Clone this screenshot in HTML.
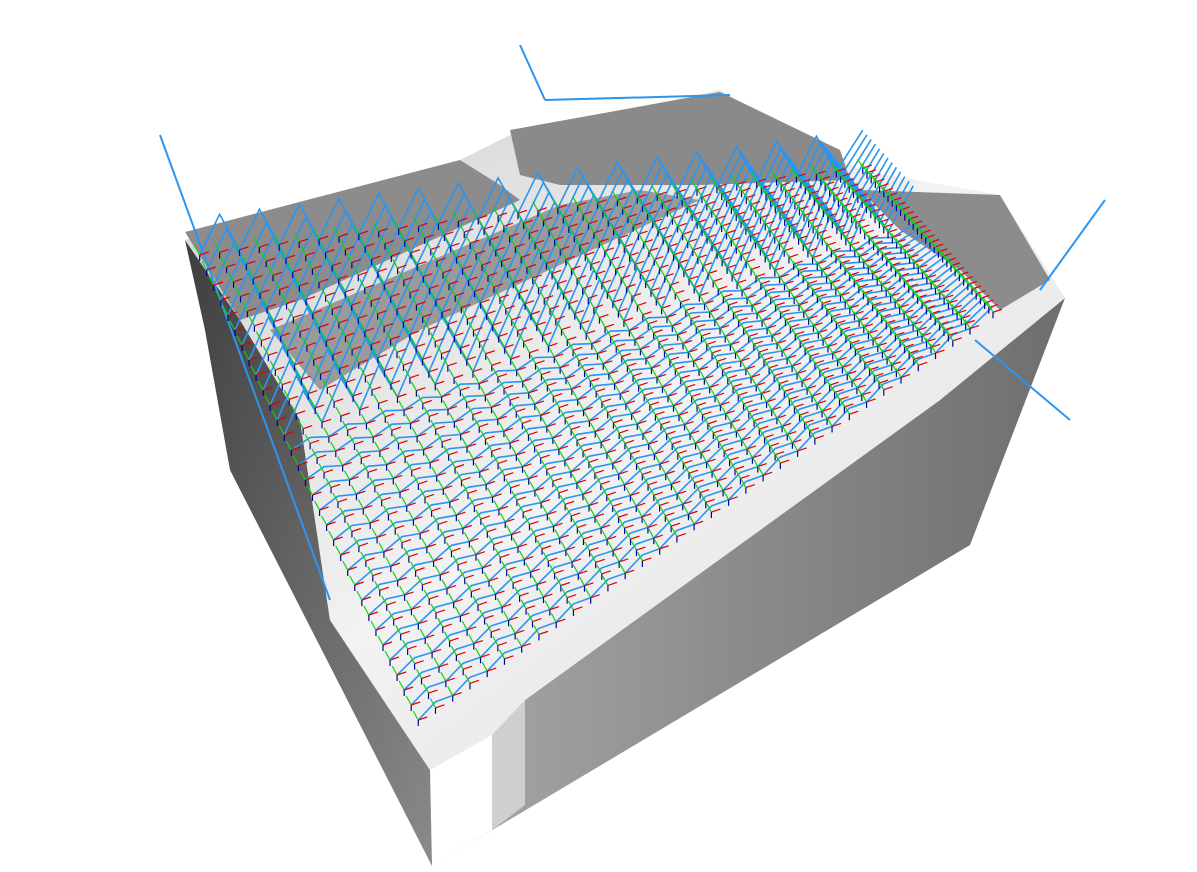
<!DOCTYPE html>
<html><head><meta charset="utf-8"><style>
html,body{margin:0;padding:0;background:#fff;}
svg{display:block;}
</style></head><body>
<svg id="scene" width="1197" height="872" viewBox="0 0 1197 872" xmlns="http://www.w3.org/2000/svg">
<defs>
<linearGradient id="gl" x1="0" y1="0" x2="1" y2="1"><stop offset="0" stop-color="#3e3e3e"/><stop offset="1" stop-color="#8a8a8a"/></linearGradient>
<linearGradient id="gf" x1="0" y1="0" x2="1" y2="0"><stop offset="0" stop-color="#a8a8a8"/><stop offset="1" stop-color="#6e6e6e"/></linearGradient>
<linearGradient id="gt" x1="0" y1="0" x2="1" y2="1"><stop offset="0" stop-color="#cfcfcf"/><stop offset="0.5" stop-color="#f2f2f2"/><stop offset="1" stop-color="#dcdcdc"/></linearGradient>
</defs>
<polygon fill="url(#gl)" points="185,240 240,320 300,420 330,620 430,770 432,866 230,470 205,330"/>
<polygon fill="url(#gf)" points="432,866 492,830 492,735 525,700 940,400 1065,298 970,545"/>
<polygon fill="#cfcfcf" points="492,735 525,700 525,805 492,830"/>
<polygon fill="url(#gt)" points="185,240 460,160 510,135 720,90 860,170 1000,195 1065,298 940,400 525,700 492,735 430,770 330,620 300,420 240,320"/>
<polygon fill="#8c8c8c" points="185,232 460,160 500,185 520,200 300,300 240,320"/>
<polygon fill="#9a9a9a" points="270,330 560,205 640,190 700,200 420,330 320,390"/>
<polygon fill="#8a8a8a" points="510,130 720,92 840,150 850,180 700,185 560,185 520,175"/>
<polygon fill="#8c8c8c" points="860,190 1000,195 1050,280 1000,310 960,270 900,230"/>
<g id="paths"></g>
<g id="ticks"></g>
</svg>
<script>
const rows = [0.02,0.05,0.08,0.11,0.14,0.17,0.2,0.23,0.26,0.29,0.32,0.35,0.38,0.41,0.44,0.47,0.5,0.53,0.56,0.59,0.62,0.65,0.68,0.71,0.74,0.77,0.8,0.83,0.86,0.89,0.92,0.95];
const cols = [0,0.03,0.06,0.09,0.12,0.15,0.18,0.21,0.24,0.27,0.3,0.33,0.36,0.39,0.42,0.45,0.48,0.51,0.54,0.57,0.6,0.63,0.66,0.69,0.72,0.75,0.78,0.81,0.84,0.87,0.9,0.93,0.96,1];
const P00=[195,245],P10=[860,165],P11=[1000,320],P01=[430,745];
function map(u,v){
  return [(1-u)*(1-v)*P00[0]+u*(1-v)*P10[0]+u*v*P11[0]+(1-u)*v*P01[0],
          (1-u)*(1-v)*P00[1]+u*(1-v)*P10[1]+u*v*P11[1]+(1-u)*v*P01[1]];
}
const NS='http://www.w3.org/2000/svg';
const pg=document.getElementById('paths'), tg=document.getElementById('ticks');
rows.forEach((v,i)=>{
  let pts=[];
  cols.forEach((u,j)=>{
    const p=map(u,v);
    const amp = v<0.4 ? 38 : 6;
    const y = p[1] + ((j%2)? -amp : 0);
    pts.push(p[0].toFixed(1)+','+y.toFixed(1));
  });
  const pl=document.createElementNS(NS,'polyline');
  pl.setAttribute('points',pts.join(' '));
  pl.setAttribute('fill','none');pl.setAttribute('stroke','#2b95f0');pl.setAttribute('stroke-width','1.6');
  
  
  pg.appendChild(pl);
  cols.forEach((u,j)=>{
    const p=map(u,v);
    [['#e00000',9,-3],['#10d010',-5,-9],['#0000a0',0,6]].forEach(([c,dx,dy])=>{
      const l=document.createElementNS(NS,'line');
      l.setAttribute('x1',p[0]);l.setAttribute('y1',p[1]);
      l.setAttribute('x2',p[0]+dx);l.setAttribute('y2',p[1]+dy);
      l.setAttribute('stroke',c);l.setAttribute('stroke-width','1.2');
      
      
      tg.appendChild(l);
    });
  });
});
const extra=[[160,135,330,600],[520,45,545,100],[545,100,730,95],[1105,200,1040,290],[975,340,1070,420]];
extra.forEach(e=>{
  const l=document.createElementNS(NS,'line');
  l.setAttribute('x1',e[0]);l.setAttribute('y1',e[1]);l.setAttribute('x2',e[2]);l.setAttribute('y2',e[3]);
  l.setAttribute('stroke','#2b95f0');l.setAttribute('stroke-width','2');
  
  
  pg.appendChild(l);
});
</script>
</body></html>
